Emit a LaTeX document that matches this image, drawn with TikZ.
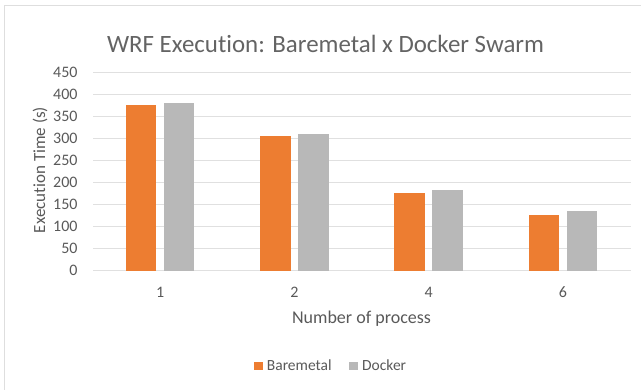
\documentclass[tikz,border=0pt]{standalone}
\usepackage{fontspec}
\setmainfont[Ligatures=NoCommon]{Carlito}
\definecolor{bmorange}{RGB}{237,125,49}
\definecolor{dkgray}{RGB}{184,184,184}
\definecolor{txtgray}{RGB}{89,89,89}
\definecolor{titlegray}{RGB}{100,100,100}
\definecolor{gridgray}{RGB}{224,224,224}
\definecolor{framegray}{RGB}{222,222,222}
\def\BMbar(#1,#2){\fill [bmorange] (#1-34.3,0) rectangle (#1-3.7,#2);}
\def\DKbar(#1,#2){\fill [dkgray] (#1+3.7,0) rectangle (#1+34.2,#2);}
\begin{document}
\begin{tikzpicture}[x=1pt,y=1pt,
  txt/.style={text=txtgray,inner sep=0pt},
  ticklab/.style={txt,font=\fontsize{16}{19}\selectfont},
  lgkey/.style={minimum width=8.7pt,minimum height=8pt,inner sep=0pt}]
\useasboundingbox (0,0) rectangle (641,390);
\draw[framegray,line width=1.5pt] (4.5,0) -- (4.5,384.5) -- (641,384.5);
\node[txt,text=titlegray,font=\fontsize{24.9}{30}\selectfont,anchor=base] (title) at (325.5,337.8) {WRF Execution: Baremetal x Docker Swarm};
\node[txt,rotate=90,font=\fontsize{17}{20}\selectfont] (ylab) at (40,220) {Execution Time (s)};
\node[txt,anchor=base,font=\fontsize{18}{22}\selectfont] (xlab) at (361.5,66) {Number of process};
\begin{scope}[shift={(93,119.3)},y=0.4409pt]
  \foreach \v in {0,50,...,450} {
    \draw[gridgray,line width=1.5pt] (0,\v) -- (537.7,\v);
    \node[ticklab,anchor=east] (tick\v) at (-15.3,\v) {\v};
  }
  \foreach \n/\c/\b/\d in {1/67.1/376/380, 2/201.4/305/309, 4/335.6/176/183, 6/469.9/126/135} {
    \BMbar(\c,\b) \DKbar(\c,\d)
    \node[ticklab,anchor=base,yshift=-26.6pt] (cat\n) at (\c,0) {\n};
  }
\end{scope}
% legend
\node[lgkey,fill=bmorange] (keybm) at (258.4,24) {};
\node[txt,anchor=base west,font=\fontsize{15.5}{18}\selectfont] (lgbm) at (266.7,19.3) {Baremetal};
\node[lgkey,fill=dkgray] (keydk) at (353.6,24) {};
\node[txt,anchor=base west,font=\fontsize{15.5}{18}\selectfont] (lgdk) at (362,19.3) {Docker};
\end{tikzpicture}
\end{document}
